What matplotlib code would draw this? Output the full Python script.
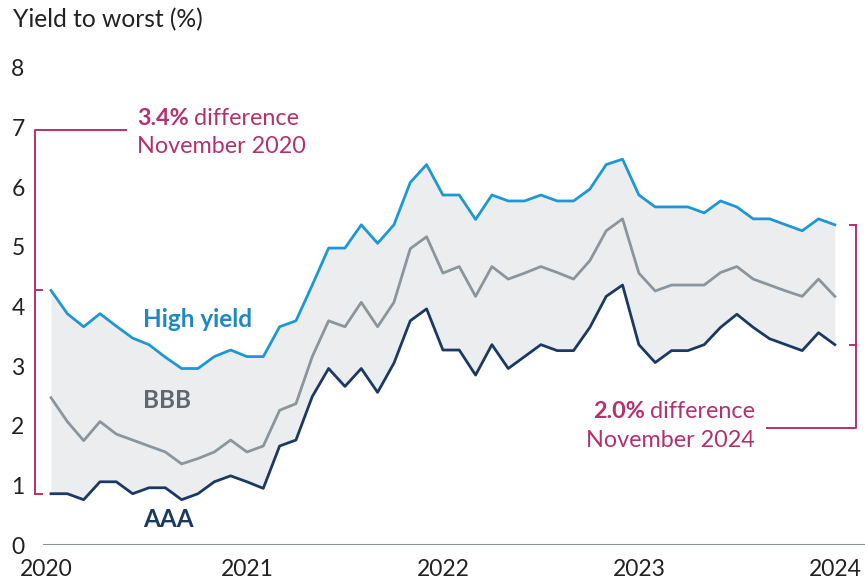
#!/usr/bin/env python3
"""Yield to worst: High yield vs BBB vs AAA, Nov 2020 - Nov 2024."""

import matplotlib
matplotlib.use('Agg')
import matplotlib.pyplot as plt
import matplotlib.transforms as mtrans

# monthly readings, Nov 2020 .. Nov 2024
high_yield = [4.27, 3.88, 3.66, 3.88, 3.67, 3.47, 3.36, 3.15, 2.96, 2.96, 3.16, 3.27, 3.16,
              3.16, 3.66, 3.76, 4.36, 4.98, 4.98, 5.37, 5.06, 5.37, 6.08, 6.38, 5.87, 5.87,
              5.46, 5.87, 5.77, 5.77, 5.87, 5.77, 5.77, 5.97, 6.38, 6.47, 5.87, 5.67, 5.67,
              5.67, 5.57, 5.77, 5.67, 5.47, 5.47, 5.37, 5.27, 5.47, 5.37]
bbb = [2.47, 2.07, 1.75, 2.07, 1.86, 1.76, 1.66, 1.56, 1.36, 1.45, 1.56, 1.76, 1.56,
       1.66, 2.26, 2.37, 3.16, 3.76, 3.66, 4.07, 3.66, 4.07, 4.97, 5.17, 4.56, 4.67,
       4.17, 4.67, 4.46, 4.56, 4.67, 4.57, 4.46, 4.77, 5.27, 5.47, 4.56, 4.26, 4.36,
       4.36, 4.36, 4.57, 4.67, 4.46, 4.36, 4.26, 4.17, 4.46, 4.17]
aaa = [0.86, 0.86, 0.76, 1.06, 1.06, 0.86, 0.96, 0.96, 0.76, 0.86, 1.06, 1.16, 1.06,
       0.95, 1.66, 1.76, 2.49, 2.96, 2.66, 2.96, 2.56, 3.05, 3.76, 3.96, 3.27, 3.27,
       2.85, 3.36, 2.96, 3.16, 3.36, 3.26, 3.26, 3.65, 4.17, 4.36, 3.36, 3.06, 3.26,
       3.26, 3.36, 3.65, 3.87, 3.65, 3.46, 3.36, 3.26, 3.56, 3.36]
year_labels = ['2020', '2021', '2022', '2023', '2024']
year_pos = [0, 12, 24, 36, 48]
y_ticks = [0, 1, 2, 3, 4, 5, 6, 7, 8]

C_HY = '#1E97D4'
C_BBB = '#8B959C'
C_AAA = '#1B3A63'
C_FILL = '#ECEDEF'
C_MAG = '#B5306F'
C_TXT = '#222222'

plt.rcParams['font.family'] = ['Lato', 'DejaVu Sans']

W, H = 865, 582
fig = plt.figure(figsize=(W / 100, H / 100), dpi=100)
ax = fig.add_axes([43 / W, 1 - 545 / H, (865 - 43) / W, (545 - 68) / H])


def fx(px):
    return px / W


def fy(py):
    return 1 - py / H


x = list(range(len(high_yield)))
ax.fill_between(x, aaa, high_yield, color=C_FILL, lw=0, zorder=1)
ax.plot(x, high_yield, color=C_HY, lw=2.0, zorder=3)
ax.plot(x, bbb, color=C_BBB, lw=2.0, zorder=3)
ax.plot(x, aaa, color=C_AAA, lw=2.0, zorder=3)

ax.set_xlim((43 - 51) / 16.33, (865 - 51) / 16.33)
ax.set_ylim(0, 8)
ax.axhline(0, color='#8A949B', lw=2.2, zorder=2)

for s in ax.spines.values():
    s.set_visible(False)
ax.set_yticks(y_ticks)
ax.set_yticklabels([str(v) for v in y_ticks])
ax.set_xticks(year_pos)
ax.set_xticklabels(year_labels)
ax.tick_params(length=0, labelsize=16.5, colors=C_TXT)
ax.tick_params(axis='y', pad=18)
ax.tick_params(axis='x', pad=10)
for t in ax.get_yticklabels():
    t.set_horizontalalignment('center')
first = ax.get_xticklabels()[0]
first.set_transform(first.get_transform() + mtrans.ScaledTranslation(-5 / 100, 0, fig.dpi_scale_trans))

fig.text(fx(13), fy(20), 'Yield to worst (%)', fontsize=17.7, color=C_TXT,
         va='center', ha='left')

# series labels
fig.text(fx(143), fy(327), 'High yield', color='#1E88C4', fontsize=17.5, fontweight='bold')
fig.text(fx(143), fy(408), 'BBB', color='#5D6870', fontsize=17.5, fontweight='bold')
fig.text(fx(143), fy(527), 'AAA', color=C_AAA, fontsize=17.5, fontweight='bold')

renderer = fig.canvas.get_renderer()
FS = 16.8

# left bracket (November 2020 spread)
xl = -0.97
ax.plot([xl, xl, 4.6], [aaa[0], 6.96, 6.96], color=C_MAG, lw=1.4, clip_on=False, zorder=4)
ax.plot([xl, -0.55], [high_yield[0], high_yield[0]], color=C_MAG, lw=1.4, clip_on=False)
ax.plot([xl, -0.55], [aaa[0], aaa[0]], color=C_MAG, lw=1.4, clip_on=False)
t1 = fig.text(fx(137), fy(125), '3.4%', color=C_MAG, fontsize=FS, fontweight='bold')
bb = t1.get_window_extent(renderer)
fig.text(fx(bb.x1 + 5), fy(125), 'difference', color=C_MAG, fontsize=FS)
fig.text(fx(137), fy(153), 'November 2020', color=C_MAG, fontsize=FS)

# right bracket (November 2024 spread)
xr = 49.3
ax.plot([48.95, xr], [high_yield[-1], high_yield[-1]], color=C_MAG, lw=1.4, clip_on=False)
ax.plot([48.95, xr], [aaa[-1], aaa[-1]], color=C_MAG, lw=1.4, clip_on=False)
ax.plot([xr, xr, 43.85], [high_yield[-1], 1.96, 1.96], color=C_MAG, lw=1.4, clip_on=False)
t2 = fig.text(fx(755), fy(418), 'difference', color=C_MAG, fontsize=FS, ha='right')
bb = t2.get_window_extent(renderer)
fig.text(fx(bb.x0 - 5), fy(418), '2.0%', color=C_MAG, fontsize=FS, fontweight='bold', ha='right')
fig.text(fx(755), fy(447), 'November 2024', color=C_MAG, fontsize=FS, ha='right')

plt.savefig('out.png', dpi=100)
plt.close()
